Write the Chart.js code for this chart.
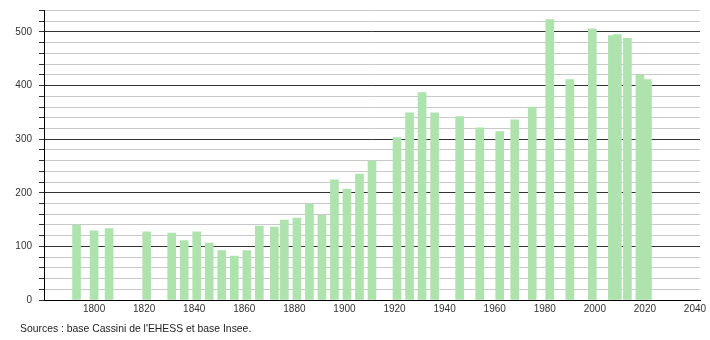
<!DOCTYPE html>
<html>
<head>
<meta charset="utf-8">
<script src="https://cdn.jsdelivr.net/npm/chart.js@4/dist/chart.umd.min.js"></script>
<style>
  html, body { margin: 0; padding: 0; background: #fff; }
  #wrap { position: relative; width: 710px; height: 340px; }
  #src { position: absolute; left: 20px; top: 323px; font: 10.4px "Liberation Sans", Arial, sans-serif; color: #222; white-space: nowrap; }
</style>
</head>
<body>
<div id="wrap">
  <canvas id="c" width="710" height="340"></canvas>
  <div id="src">Sources : base Cassini de l'EHESS et base Insee.</div>
</div>
<script>
const years = [1793,1800,1806,1821,1831,1836,1841,1846,1851,1856,1861,1866,1872,1876,1881,1886,1891,1896,1901,1906,1911,1921,1926,1931,1936,1946,1954,1962,1968,1975,1982,1990,1999,2007,2009,2013,2018,2021];
const population = [140,129,133,127,125,111,127,106,92,82,92,138,136,149,153,179,158,224,207,235,259,303,349,387,349,342,321,314,336,360,523,411,506,493,495,488,419,411];
const yTickLabels = [0,100,200,300,400,500];
const xTickLabels = [1800,1820,1840,1860,1880,1900,1920,1940,1960,1980,2000,2020,2040];

const points = years.map((y, i) => ({ x: y, y: population[i] }));
const font = { family: "'Liberation Sans', Arial, sans-serif", size: 10 };

new Chart(document.getElementById('c'), {
  type: 'bar',
  data: {
    datasets: [{
      data: points,
      backgroundColor: 'rgb(174,227,174)',
      borderWidth: 0,
      barThickness: 8
    }]
  },
  options: {
    responsive: false,
    animation: false,
    devicePixelRatio: 1,
    layout: { padding: { top: 10.5, right: 10, left: 0, bottom: 0 } },
    plugins: { legend: { display: false }, tooltip: { enabled: false }, title: { display: false } },
    scales: {
      x: {
        type: 'linear',
        min: 1780,
        max: 2042,
        offset: false,
        afterFit: s => { s.height = 40; },
        afterBuildTicks: s => { s.ticks = xTickLabels.map(v => ({ value: v })); },
        ticks: {
          autoSkip: false,
          maxRotation: 0,
          padding: 3,
          color: '#333',
          font: font,
          callback: v => String(v)
        },
        grid: { display: true, drawOnChartArea: false, drawTicks: false },
        border: { display: true, color: '#000', width: 1 }
      },
      y: {
        min: 0,
        max: 540,
        afterFit: s => { s.width = 44; s.paddingTop = 0; },
        ticks: {
          stepSize: 20,
          autoSkip: false,
          padding: 7,
          color: '#333',
          font: font,
          callback: v => (yTickLabels.includes(v) ? String(v) : '')
        },
        grid: {
          color: c => (c.tick && c.tick.value % 100 === 0 ? '#333' : '#c8c8c8'),
          tickColor: '#333',
          tickLength: 5,
          lineWidth: 1
        },
        border: { display: true, color: '#000', width: 1 }
      }
    }
  }
});
</script>
</body>
</html>
